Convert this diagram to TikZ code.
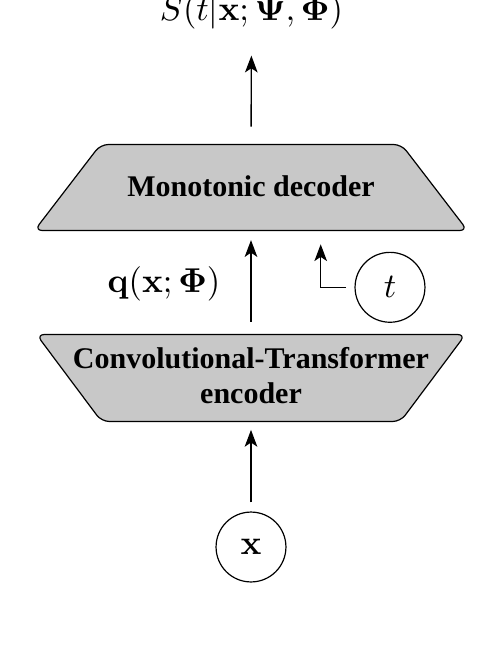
\RequirePackage{fix-cm}
\documentclass[tikz,border=0pt]{standalone}
\usepackage[no-math]{fontspec}
\setmainfont{Liberation Serif}
\usetikzlibrary{arrows.meta}
\definecolor{blockgray}{HTML}{C8C8C8}
\tikzset{
  block/.style={draw=black, line width=0.4pt, fill=blockgray, rounded corners=2.6pt},
  blocktext/.style={inner sep=0pt, font=\fontsize{10pt}{11.67pt}\selectfont\bfseries},
  mathlabel/.style={inner sep=0pt, font=\fontsize{11.5pt}{14pt}\selectfont},
  varcircle/.style={draw, circle, line width=0.4pt, minimum size=23.3pt, inner sep=0pt, font=\fontsize{11.5pt}{14pt}\selectfont},
  arr/.style={line width=0.45pt, -{Stealth[length=5.6pt,width=4.2pt,inset=1.4pt]}}
}
\begin{document}
\begin{tikzpicture}[x=0.33333pt, y=-0.33333pt]
\useasboundingbox (0,0) rectangle (503,647);
% decoder
\draw[block] (34.5,230.5) -- (100.5,144.5) -- (401.5,144.5) -- (467.5,230.5) -- cycle;
\node[blocktext, anchor=base] (dec) at (251,196.5) {Monotonic decoder};
% encoder
\draw[block] (36.5,334.5) -- (101.5,421.5) -- (400.5,421.5) -- (465.5,334.5) -- cycle;
\node[blocktext, anchor=base] (enc1) at (251,368.3) {Convolutional-Transformer};
\node[blocktext, anchor=base] (enc2) at (251,403.3) {encoder};
% anchors on blocks
\coordinate (decT) at (251,144.5);
\coordinate (decB) at (251,230.5);
\coordinate (encT) at (251,334.5);
\coordinate (encB) at (251,421.5);
\coordinate (decBt) at (320.7,230.5);
% labels and inputs
\node[mathlabel, anchor=base] (out) at (251.5,20) {$S(t|\mathbf{x};\mathbf{\Psi},\mathbf{\Phi})$};
\node[mathlabel, anchor=base east] (q) at (221,292) {$\mathbf{q}(\mathbf{x};\mathbf{\Phi})$};
\node[varcircle] (xin) at (251,547) {$\mathbf{x}$};
\node[varcircle] (tin) at (390,287.3) {$t$};
% connectors
\draw[arr, shorten <=3pt, shorten >=2.8pt] (xin) -- (encB);
\draw[arr, shorten <=4.3pt, shorten >=3.2pt] (encT) -- (decB);
\draw[arr, shorten <=6pt, shorten >=8.8pt] (decT) -- (out.south);
\draw[arr, shorten <=2.8pt, shorten >=4.6pt] (tin.west) -| (decBt);
\end{tikzpicture}
\end{document}
